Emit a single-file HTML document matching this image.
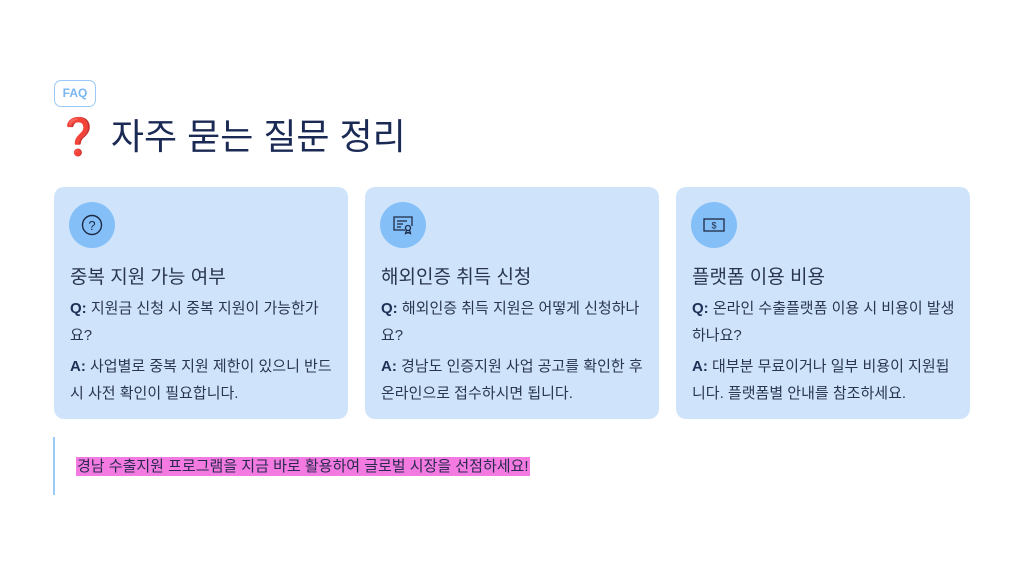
<!DOCTYPE html>
<html><head><meta charset="utf-8"><style>
*{margin:0;padding:0;box-sizing:border-box}
body{width:1024px;height:576px;background:#fff;font-family:"Liberation Sans","Noto Sans CJK KR",sans-serif;position:relative;overflow:hidden;color:#2a3550}
.badge{position:absolute;left:54px;top:80px;width:42px;height:27px;border:1px solid #9ccaf7;border-radius:7px;color:#7ab6f2;font-size:12px;font-weight:bold;text-align:center;line-height:25px}
h1{position:absolute;left:56px;top:114px;font-size:36px;font-weight:400;color:#1b2a55;white-space:nowrap;line-height:46px}
h1 span{color:#e53935}
.card{position:absolute;top:187px;width:294px;height:232px;background:#cfe4fb;border-radius:10px;padding:0 16px}
.ic{position:absolute;left:15px;top:15px;width:46px;height:46px;border-radius:50%;background:#85bff8;display:flex;align-items:center;justify-content:center}
.t{position:absolute;left:16px;top:75px;font-size:19px;color:#2a3550;white-space:nowrap}
.q{position:absolute;left:16px;top:108px;width:270px;font-size:15px;line-height:27px}
.a{position:absolute;left:16px;top:166px;width:270px;font-size:15px;line-height:27px}
b{color:#1f2f55}
.bar{position:absolute;left:53px;top:437px;width:2px;height:58px;background:#9ccaf7}
.hl{position:absolute;left:76px;top:457px;height:19px;background:#f27ae0;font-size:15px;line-height:19px;padding:0 1px;color:#2a2a50;white-space:nowrap}
</style></head><body>
<div class="badge">FAQ</div>
<h1><span>❓</span> 자주 묻는 질문 정리</h1>
<div class="card" style="left:54px">
<div class="ic"><svg width="24" height="24" viewBox="0 0 24 24"><circle cx="12" cy="12" r="9.5" fill="none" stroke="#1e2a44" stroke-width="1.4"/><text x="12" y="17" font-size="13" text-anchor="middle" fill="#1e2a44" font-family="Liberation Sans">?</text></svg></div>
<div class="t">중복 지원 가능 여부</div>
<div class="q"><b>Q:</b> 지원금 신청 시 중복 지원이 가능한가요?</div>
<div class="a"><b>A:</b> 사업별로 중복 지원 제한이 있으니 반드시 사전 확인이 필요합니다.</div>
</div>
<div class="card" style="left:365px">
<div class="ic"><svg width="24" height="24" viewBox="0 0 24 24" fill="none" stroke="#1e2a44" stroke-width="1.3"><path d="M14 17H3V4h18v9"/><path d="M6 8h10M6 11h6M6 14h4"/><circle cx="17" cy="15" r="2.5"/><path d="M15.5 17l-1 3.5 2.5-1 2.5 1-1-3.5"/></svg></div>
<div class="t">해외인증 취득 신청</div>
<div class="q"><b>Q:</b> 해외인증 취득 지원은 어떻게 신청하나요?</div>
<div class="a"><b>A:</b> 경남도 인증지원 사업 공고를 확인한 후 온라인으로 접수하시면 됩니다.</div>
</div>
<div class="card" style="left:676px">
<div class="ic"><svg width="24" height="24" viewBox="0 0 24 24" fill="none" stroke="#1e2a44" stroke-width="1.3"><rect x="2" y="6" width="20" height="12"/><text x="12" y="15.5" font-size="9" text-anchor="middle" fill="#1e2a44" stroke="none" font-family="Liberation Sans">$</text></svg></div>
<div class="t">플랫폼 이용 비용</div>
<div class="q"><b>Q:</b> 온라인 수출플랫폼 이용 시 비용이 발생하나요?</div>
<div class="a"><b>A:</b> 대부분 무료이거나 일부 비용이 지원됩니다. 플랫폼별 안내를 참조하세요.</div>
</div>
<div class="bar"></div>
<div class="hl">경남 수출지원 프로그램을 지금 바로 활용하여 글로벌 시장을 선점하세요!</div>
</body></html>
